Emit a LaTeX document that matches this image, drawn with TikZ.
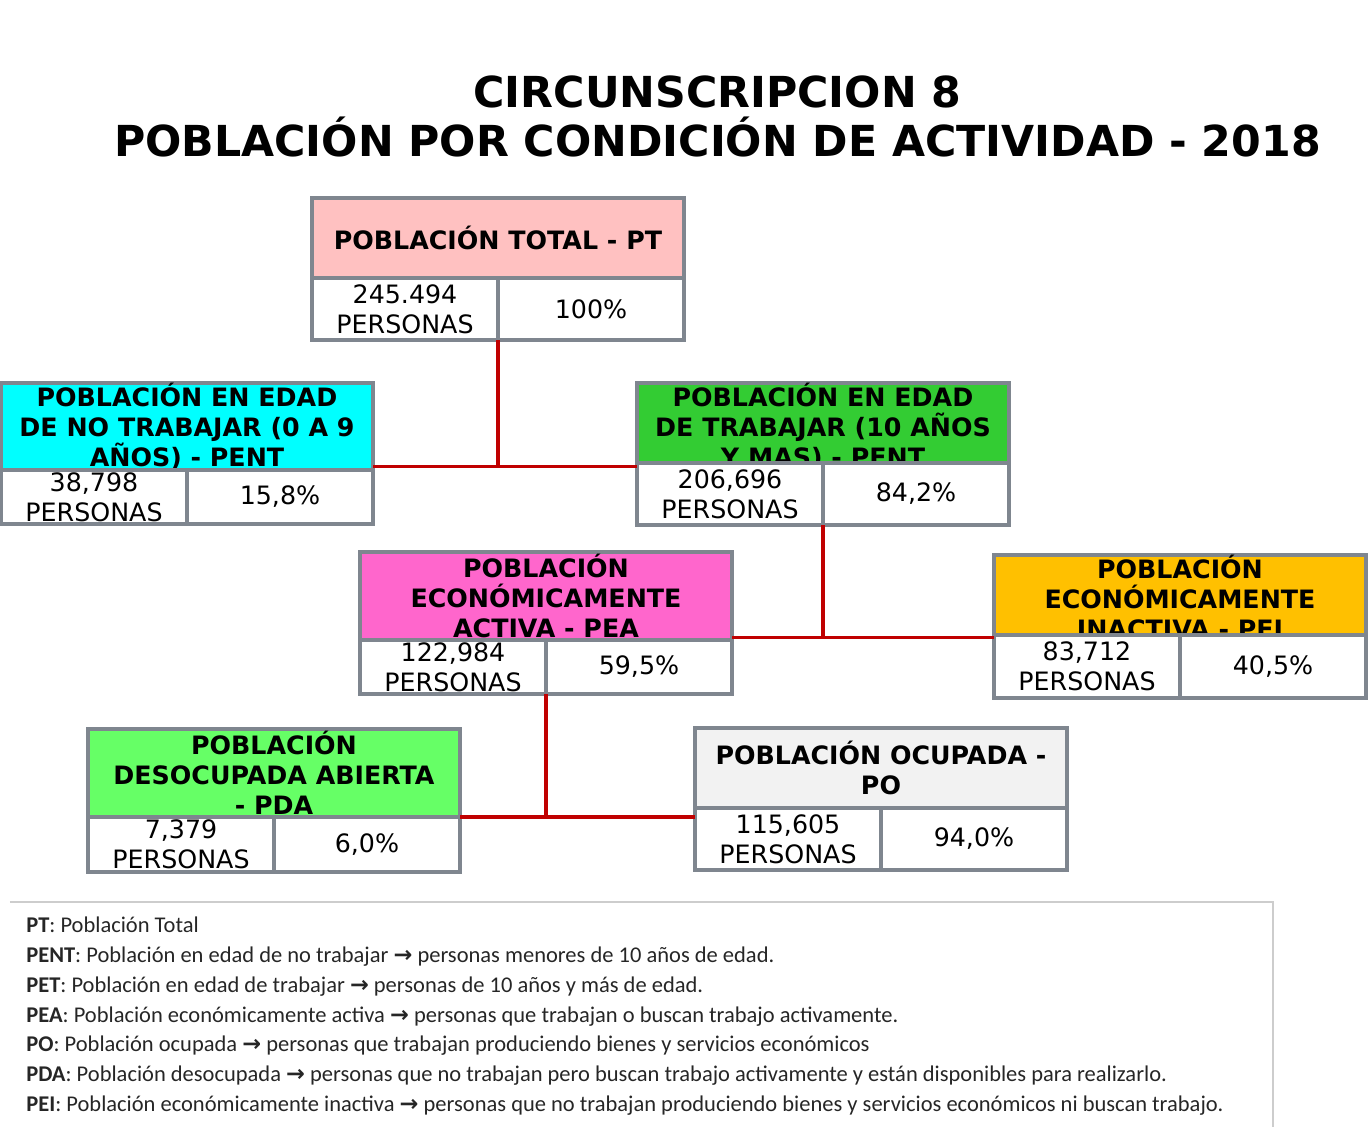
\documentclass[tikz,border=0pt]{standalone}
\usepackage{fontspec}
\setmainfont{DejaVu Sans}
\newfontfamily\legfont{Carlito}
\usetikzlibrary{positioning,calc}
\definecolor{boxgray}{RGB}{127,134,143}
\definecolor{linkred}{RGB}{192,0,0}
\definecolor{ptpink}{RGB}{255,193,193}
\definecolor{pentcyan}{RGB}{0,255,255}
\definecolor{petgreen}{RGB}{51,204,51}
\definecolor{peapink}{RGB}{255,102,204}
\definecolor{peiamber}{RGB}{255,192,0}
\definecolor{pdagreen}{RGB}{102,255,102}
\definecolor{pogray}{RGB}{242,242,242}
\definecolor{leggray}{RGB}{205,205,205}
\newcommand{\legarrow}{{\normalfont\bfseries →}}

\begin{document}
\begin{tikzpicture}[
    head/.style={draw=boxgray,line width=2.2pt,outer sep=0pt,anchor=north west,minimum width=7.44cm,inner xsep=2pt,inner ysep=0pt,align=center,font=\fontsize{14.4}{17}\selectfont\bfseries},
    cell/.style={draw=boxgray,line width=2.2pt,outer sep=0pt,fill=white,minimum width=3.72cm,inner sep=0pt,align=center,font=\fontsize{14.4}{17}\selectfont},
    link/.style={draw=linkred,line width=2.2pt}
]
\useasboundingbox (0,0) rectangle (27.38,-22.54);
\node[font=\fontsize{24.3}{28.3}\selectfont\bfseries,align=center] (title) at (14.35,-2.33) {CIRCUNSCRIPCION 8\\POBLACIÓN POR CONDICIÓN DE ACTIVIDAD - 2018};

% headers
\node[head,fill=ptpink,minimum height=1.6cm] (pt) at (6.24,-3.96) {POBLACIÓN TOTAL - PT};
\node[head,fill=pentcyan,minimum height=1.74cm] (pent) at (0.02,-7.66) {POBLACIÓN EN EDAD\\DE NO TRABAJAR (0 A 9\\AÑOS) - PENT};
\node[head,fill=petgreen,minimum height=1.6cm] (pet) at (12.74,-7.66) {POBLACIÓN EN EDAD\\DE TRABAJAR (10 AÑOS\\Y MAS) - PENT};
\node[head,fill=peapink,minimum height=1.76cm] (pea) at (7.20,-11.04) {POBLACIÓN\\ECONÓMICAMENTE\\ACTIVA - PEA};
\node[head,fill=peiamber,minimum height=1.6cm] (pei) at (19.88,-11.10) {POBLACIÓN\\ECONÓMICAMENTE\\INACTIVA - PEI};
\node[head,fill=pdagreen,minimum height=1.76cm] (pda) at (1.76,-14.58) {POBLACIÓN\\DESOCUPADA ABIERTA\\- PDA};
\node[head,fill=pogray,minimum height=1.6cm] (po) at (13.90,-14.56) {POBLACIÓN OCUPADA -\\PO};

% cells
\node[cell,minimum height=1.24cm,anchor=north west] (ptn) at (6.24,-5.56) {245.494\\PERSONAS};
\node[cell,minimum height=1.24cm,right=0pt of ptn] (ptp) {100\%};
\node[cell,minimum height=1.08cm,anchor=north west] (pentn) at (0.02,-9.40) {38,798\\PERSONAS};
\node[cell,minimum height=1.08cm,right=0pt of pentn] (pentp) {15,8\%};
\node[cell,minimum height=1.24cm,anchor=north west] (petn) at (12.74,-9.26) {206,696\\PERSONAS};
\node[cell,minimum height=1.24cm,right=0pt of petn] (petp) {84,2\%};
\node[cell,minimum height=1.08cm,anchor=north west] (pean) at (7.20,-12.80) {122,984\\PERSONAS};
\node[cell,minimum height=1.08cm,right=0pt of pean] (peap) {59,5\%};
\node[cell,minimum height=1.26cm,anchor=north west] (pein) at (19.88,-12.70) {83,712\\PERSONAS};
\node[cell,minimum height=1.26cm,right=0pt of pein] (peip) {40,5\%};
\node[cell,minimum height=1.1cm,anchor=north west] (pdan) at (1.76,-16.34) {7,379\\PERSONAS};
\node[cell,minimum height=1.1cm,right=0pt of pdan] (pdap) {6,0\%};
\node[cell,minimum height=1.24cm,anchor=north west] (pon) at (13.90,-16.16) {115,605\\PERSONAS};
\node[cell,minimum height=1.24cm,right=0pt of pon] (pop) {94,0\%};

% connectors
\coordinate (j1) at ($(pentp.north east)!0.5!(petn.north west)$);
\draw[link] (ptn.south east) -- (ptn.south east |- j1);
\draw[link] (pentp.north east |- j1) -- (petn.north west |- j1);
\coordinate (j2) at ($(peap.north east)!0.5!(pein.north west)$);
\draw[link] (petn.south east) -- (petn.south east |- j2);
\draw[link] (peap.north east |- j2) -- (pein.north west |- j2);
\draw[link] (pean.south east) -- (pean.south east |- pdap.north);
\draw[link] (pdap.north east) -- (pdap.north east -| pon.west);

% legend
\draw[leggray,line width=1pt] (0.2,-18.04) -- (25.46,-18.04) -- (25.46,-22.54);
\node[anchor=north west,inner sep=0pt,align=left,text=black!85,font=\legfont\fontsize{12.8}{17}\selectfont] (legend) at (0.52,-18.33) {%
\textbf{PT}: Población Total\\
\textbf{PENT}: Población en edad de no trabajar \legarrow{} personas menores de 10 años de edad.\\
\textbf{PET}: Población en edad de trabajar \legarrow{} personas de 10 años y más de edad.\\
\textbf{PEA}: Población económicamente activa \legarrow{} personas que trabajan o buscan trabajo activamente.\\
\textbf{PO}: Población ocupada \legarrow{} personas que trabajan produciendo bienes y servicios económicos\\
\textbf{PDA}: Población desocupada \legarrow{} personas que no trabajan pero buscan trabajo activamente y están disponibles para realizarlo.\\
\textbf{PEI}: Población económicamente inactiva \legarrow{} personas que no trabajan produciendo bienes y servicios económicos ni buscan trabajo.};
\end{tikzpicture}
\end{document}
